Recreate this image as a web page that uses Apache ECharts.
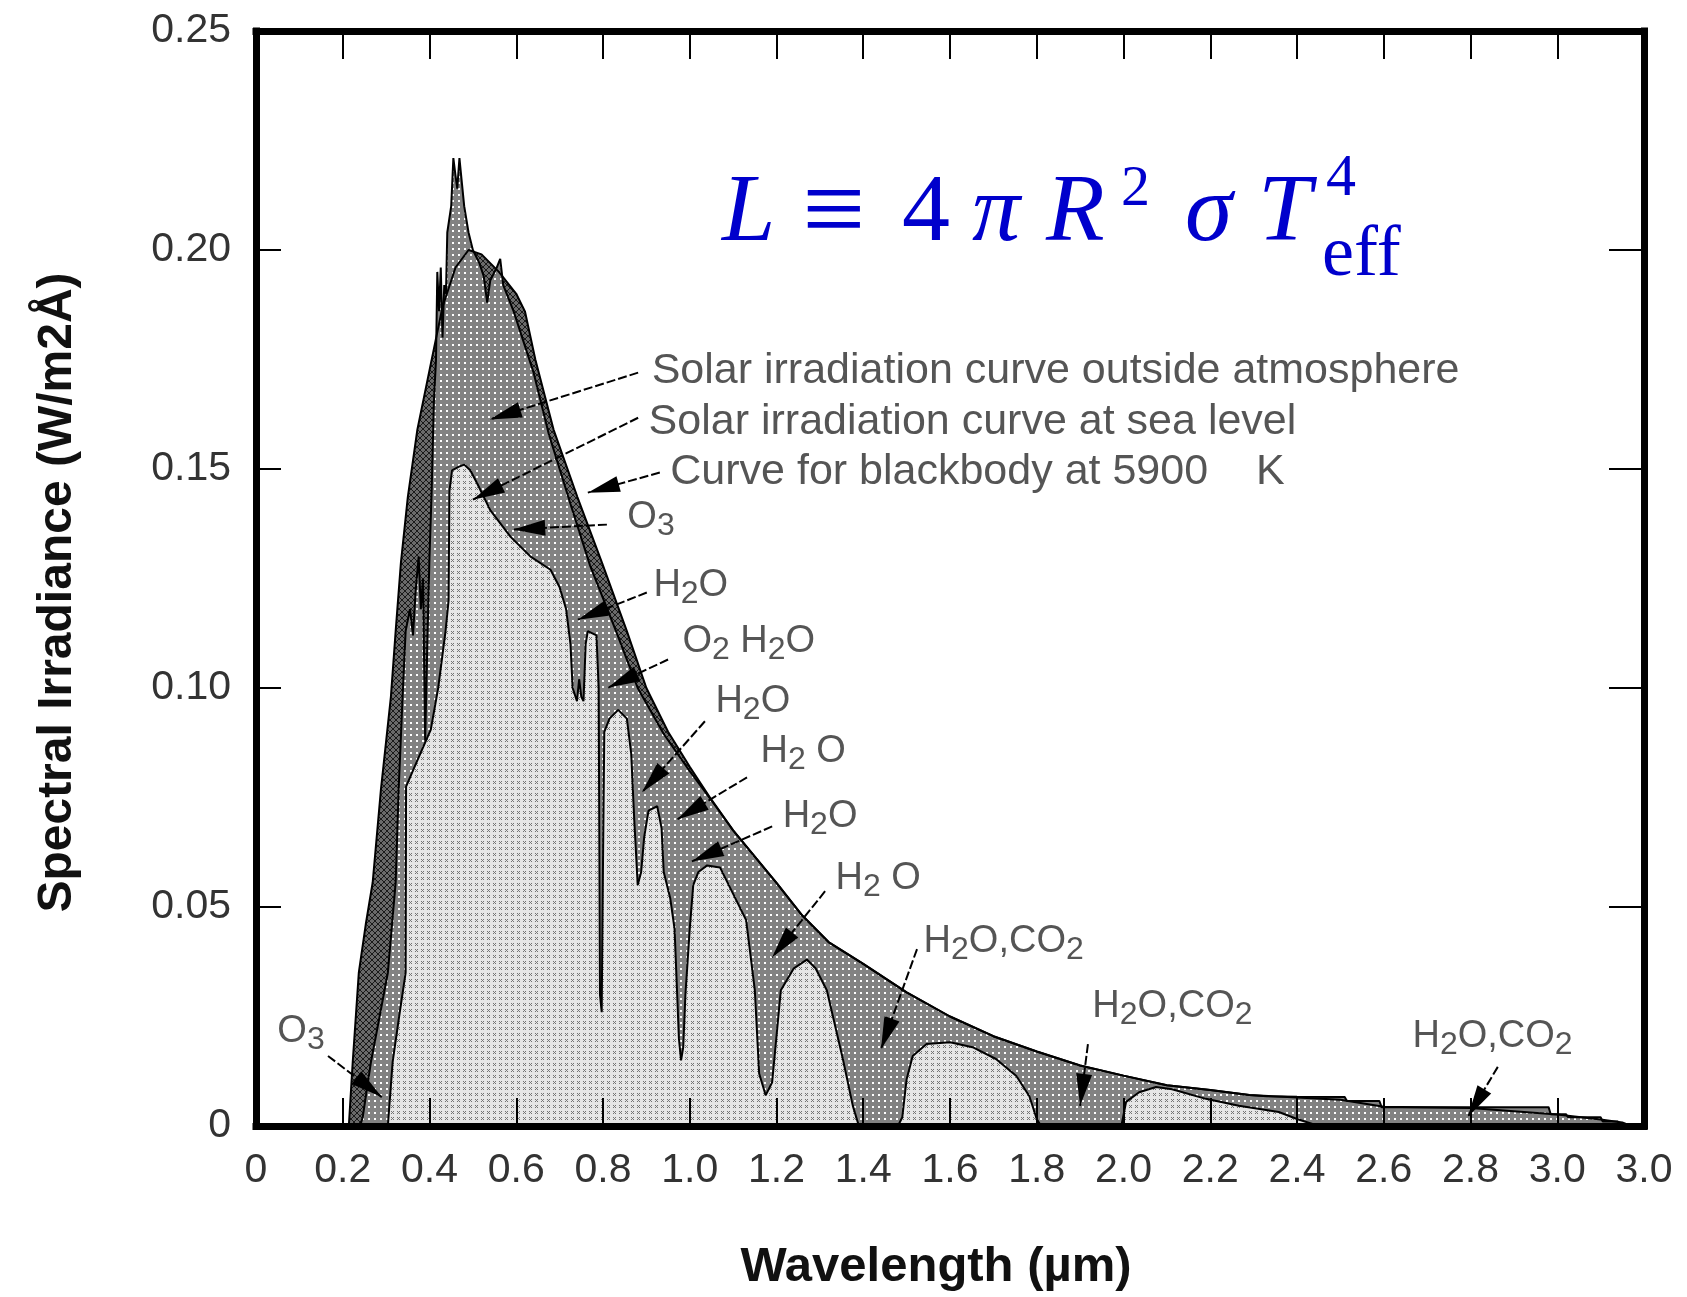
<!DOCTYPE html>
<html>
<head>
<meta charset="utf-8">
<title>Solar spectral irradiance</title>
<script src="https://cdn.jsdelivr.net/npm/echarts@6/dist/echarts.min.js"></script>
<style>
html, body { margin: 0; padding: 0; background: #fff; }
#chart { width: 1687px; height: 1297px; }
</style>
</head>
<body>
<div id="chart"></div>
<script>
// tick labels as printed on the figure (the last one really reads 3.0)
var xTickLabels = ['0', '0.2', '0.4', '0.6', '0.8', '1.0', '1.2', '1.4', '1.6', '1.8',
                   '2.0', '2.2', '2.4', '2.6', '2.8', '3.0', '3.0'];
var yTickLabels = ['0', '0.05', '0.10', '0.15', '0.20', '0.25'];

// [wavelength um, irradiance W/m2A]
var blackbody = [
    [0.214, 0], [0.223, 0.0146], [0.237, 0.035], [0.253, 0.046], [0.269, 0.0556], [0.288, 0.0768],
    [0.311, 0.098], [0.322, 0.113], [0.334, 0.1285], [0.35, 0.1436], [0.372, 0.159], [0.403, 0.174],
    [0.43, 0.187], [0.46, 0.196], [0.49, 0.2], [0.52, 0.199], [0.56, 0.195], [0.60, 0.19],
    [0.62, 0.186], [0.644, 0.175], [0.686, 0.159], [0.741, 0.1436], [0.798, 0.1285], [0.855, 0.113],
    [0.90, 0.1], [0.95, 0.09], [1.00, 0.082], [1.05, 0.0745], [1.10, 0.0675], [1.15, 0.0615],
    [1.20, 0.0555], [1.26, 0.048], [1.32, 0.042], [1.40, 0.037], [1.50, 0.0305], [1.60, 0.025],
    [1.70, 0.0205], [1.80, 0.017], [1.90, 0.0138], [2.00, 0.0115], [2.10, 0.0093], [2.20, 0.0082],
    [2.29, 0.0071], [2.40, 0.0065], [2.50, 0.006], [2.60, 0.0044], [2.80, 0.0041], [3.00, 0.0026],
    [3.10, 0.0015], [3.15, 0.0008], [3.17, 0]
];

var outside = [
    [0.240, 0], [0.246, 0.002], [0.265, 0.0146], [0.285, 0.025], [0.304, 0.035], [0.322, 0.0556],
    [0.329, 0.077], [0.338, 0.098], [0.345, 0.113], [0.355, 0.118], [0.362, 0.112], [0.368, 0.122],
    [0.375, 0.13], [0.38, 0.118], [0.385, 0.125], [0.39, 0.088], [0.395, 0.11], [0.40, 0.13],
    [0.405, 0.145], [0.41, 0.165], [0.415, 0.175], [0.418, 0.195], [0.422, 0.186], [0.426, 0.196],
    [0.43, 0.18], [0.434, 0.192], [0.438, 0.19], [0.441, 0.204], [0.45, 0.21], [0.455, 0.221],
    [0.46, 0.217], [0.464, 0.214], [0.469, 0.221], [0.475, 0.215], [0.48, 0.21], [0.49, 0.204],
    [0.50, 0.2], [0.515, 0.197], [0.525, 0.194], [0.533, 0.188], [0.54, 0.193], [0.555, 0.196],
    [0.563, 0.198], [0.57, 0.192], [0.594, 0.186], [0.64, 0.172], [0.675, 0.158], [0.725, 0.142],
    [0.77, 0.128], [0.83, 0.113], [0.88, 0.1], [0.94, 0.0895], [1.00, 0.081], [1.06, 0.073],
    [1.10, 0.0675], [1.15, 0.0615], [1.20, 0.0555], [1.26, 0.048], [1.32, 0.042], [1.40, 0.037],
    [1.50, 0.0305], [1.60, 0.025], [1.70, 0.0205], [1.80, 0.017], [1.90, 0.0138], [2.00, 0.0115],
    [2.10, 0.0093], [2.20, 0.0082], [2.29, 0.0071], [2.33, 0.0068], [2.40, 0.0067], [2.51, 0.0066],
    [2.515, 0.0057], [2.59, 0.0057], [2.595, 0.0043], [2.98, 0.0043], [2.985, 0.0027], [3.02, 0.0027],
    [3.025, 0.002], [3.10, 0.002], [3.105, 0.001], [3.14, 0.001], [3.145, 0]
];

var seaLevel = [
    [0.304, 0], [0.315, 0.0146], [0.33, 0.025], [0.345, 0.035], [0.346, 0.0775], [0.37, 0.083],
    [0.403, 0.0905], [0.42, 0.10], [0.437, 0.113], [0.444, 0.12], [0.446, 0.145], [0.452, 0.1497],
    [0.467, 0.1505], [0.48, 0.151], [0.494, 0.1497], [0.51, 0.1467], [0.54, 0.1406], [0.587, 0.1345],
    [0.633, 0.13], [0.679, 0.127], [0.70, 0.123], [0.715, 0.118], [0.725, 0.11], [0.73, 0.10],
    [0.74, 0.097], [0.745, 0.102], [0.75, 0.098], [0.755, 0.097], [0.76, 0.11], [0.765, 0.113],
    [0.785, 0.112], [0.79, 0.10], [0.793, 0.03], [0.797, 0.026], [0.80, 0.06], [0.803, 0.09],
    [0.815, 0.093], [0.835, 0.095], [0.855, 0.093], [0.865, 0.085], [0.872, 0.07], [0.88, 0.055],
    [0.888, 0.058], [0.895, 0.066], [0.905, 0.072], [0.925, 0.073], [0.935, 0.068], [0.94, 0.058],
    [0.955, 0.052], [0.965, 0.045], [0.975, 0.02], [0.98, 0.015], [0.985, 0.018], [0.99, 0.03],
    [1.00, 0.045], [1.008, 0.055], [1.02, 0.058], [1.04, 0.0595], [1.07, 0.059], [1.10, 0.053],
    [1.13, 0.047], [1.15, 0.031], [1.16, 0.012], [1.175, 0.007], [1.19, 0.01], [1.21, 0.031],
    [1.24, 0.036], [1.27, 0.038], [1.29, 0.036], [1.316, 0.031], [1.353, 0.0153], [1.376, 0.0046],
    [1.39, 0], [1.48, 0], [1.49, 0.002], [1.50, 0.0107], [1.514, 0.016], [1.546, 0.0187],
    [1.60, 0.0191], [1.652, 0.018], [1.706, 0.0153], [1.753, 0.0114], [1.783, 0.0068], [1.80, 0.0016],
    [1.81, 0], [1.995, 0], [2.006, 0.0055], [2.036, 0.0077], [2.075, 0.0089], [2.112, 0.0084],
    [2.19, 0.0062], [2.266, 0.0046], [2.358, 0.0032], [2.40, 0.0016], [2.45, 0]
];

// callout texts: [x, y, text]  (digits in formulas are drawn as subscripts)
var curveNotes = [
    [0.911, 0.1724, 'Solar irradiation curve outside atmosphere'],
    [0.904, 0.1608, 'Solar irradiation curve at sea level'],
    [0.954, 0.1492, 'Curve for blackbody at 5900    K']
];
var gasNotes = [
    [0.855, 0.1387, 'O3'],
    [0.915, 0.1232, 'H2O'],
    [0.982, 0.1104, 'O2 H2O'],
    [1.058, 0.0967, 'H2O'],
    [1.162, 0.0853, 'H2 O'],
    [1.213, 0.0705, 'H2O'],
    [1.335, 0.0563, 'H2 O'],
    [1.538, 0.0420, 'H2O,CO2'],
    [1.927, 0.0271, 'H2O,CO2'],
    [2.665, 0.0203, 'H2O,CO2'],
    [0.048, 0.0214, 'O3']
];
// leader lines: [x from, y from, x tip, y tip]
var arrows = [
    [0.881, 0.1720, 0.539, 0.1613],
    [0.881, 0.1617, 0.500, 0.1430],
    [0.931, 0.1492, 0.765, 0.1446],
    [0.809, 0.1373, 0.593, 0.1362],
    [0.901, 0.1218, 0.742, 0.1156],
    [0.950, 0.1065, 0.812, 0.1001],
    [1.035, 0.0924, 0.890, 0.0762],
    [1.132, 0.0796, 0.971, 0.0700],
    [1.190, 0.0684, 1.005, 0.0604],
    [1.312, 0.0536, 1.190, 0.0385],
    [1.524, 0.0404, 1.441, 0.0176],
    [1.918, 0.0187, 1.900, 0.0046],
    [2.863, 0.0135, 2.794, 0.0021],
    [0.166, 0.0160, 0.290, 0.0066]
];

var FONT = 'Liberation Sans, Arial, sans-serif';
var SERIF = 'Liberation Serif, DejaVu Serif, serif';

function pattern(bg, fg, pts, size) {
    var c = document.createElement('canvas');
    c.width = size;
    c.height = size;
    var ctx = c.getContext('2d');
    ctx.fillStyle = bg;
    ctx.fillRect(0, 0, size, size);
    ctx.fillStyle = fg;
    pts.forEach(function (p) {
        ctx.fillRect(p[0], p[1], p[2] || 1, p[3] || 1);
    });
    return { image: c, repeat: 'repeat' };
}

var darkFill = pattern('#6a6a6a', '#1a1a1a',
    [[0, 0], [1, 1], [2, 2], [3, 3], [4, 4], [5, 5], [5, 0], [4, 1], [3, 2], [2, 3], [1, 4], [0, 5]], 6);
var dotFill = pattern('#828282', '#ffffff', [[2, 2, 2, 2]], 6);
var lightFill = pattern('#e6e6e6', '#747474', [[1, 1], [3, 1], [2, 2], [1, 3], [3, 3]], 6);

function area(name, data, fill) {
    return {
        name: name,
        type: 'line',
        data: data,
        symbol: 'none',
        silent: true,
        lineStyle: { color: '#000', width: 2 },
        areaStyle: { color: fill, opacity: 1 }
    };
}

function chem(t) {
    var s = '{n|' + t.replace(/\d/g, function (d) { return '}{s|' + d + '}{n|'; }) + '}';
    return s.replace(/\{n\|\}/g, '');
}

var axisLine = { show: true, onZero: false, lineStyle: { color: '#000', width: 7, cap: 'square' } };
var tickStyle = { color: '#000', width: 2 };

var chart = echarts.init(document.getElementById('chart'));

chart.setOption({
    animation: false,
    backgroundColor: '#fff',
    grid: { left: 256, right: 43, top: 31, bottom: 170 },
    xAxis: [{
        type: 'value', min: 0, max: 3.2, interval: 0.2, position: 'bottom', z: 10,
        axisLine: axisLine,
        axisTick: { show: true, inside: true, length: 28, lineStyle: tickStyle },
        axisLabel: {
            margin: 24, fontSize: 41, color: '#333', fontFamily: FONT,
            showMinLabel: true, showMaxLabel: true,
            formatter: function (v) { return xTickLabels[Math.round(v / 0.2)]; }
        },
        splitLine: { show: false },
        name: 'Wavelength (µm)', nameLocation: 'middle', nameGap: 117,
        nameTextStyle: { fontSize: 49, fontWeight: 'bold', color: '#111', fontFamily: FONT, padding: [0, 28, 0, 0] }
    }, {
        type: 'value', min: 0, max: 3.2, interval: 0.2, position: 'top', z: 10,
        axisLine: axisLine,
        axisTick: { show: true, inside: true, length: 28, lineStyle: tickStyle },
        axisLabel: { show: false },
        splitLine: { show: false }
    }],
    yAxis: [{
        type: 'value', min: 0, max: 0.25, interval: 0.05, position: 'left', z: 10,
        axisLine: axisLine,
        axisTick: { show: true, inside: true, length: 25, lineStyle: tickStyle },
        axisLabel: {
            margin: 25, fontSize: 41, color: '#333', fontFamily: FONT,
            formatter: function (v) { return yTickLabels[Math.round(v / 0.05)]; }
        },
        splitLine: { show: false },
        name: 'Spectral Irradiance (W/m2Å)', nameLocation: 'middle', nameGap: 174,
        nameTextStyle: { fontSize: 48, fontWeight: 'bold', color: '#111', fontFamily: FONT, padding: [0, 28, 0, 0] }
    }, {
        type: 'value', min: 0, max: 0.25, interval: 0.05, position: 'right', z: 10,
        axisLine: axisLine,
        axisTick: { show: true, inside: true, length: 35, lineStyle: tickStyle },
        axisLabel: { show: false },
        splitLine: { show: false }
    }],
    series: [
        area('Blackbody 5900 K', blackbody, darkFill),
        area('Outside atmosphere', outside, dotFill),
        area('Sea level', seaLevel, lightFill),
        {
            type: 'lines',
            coordinateSystem: 'cartesian2d',
            silent: true,
            z: 5,
            symbol: ['none', 'path://M0,0M0,2L1,4L-1,4Z'],
            symbolSize: [1, [16, 64]],
            lineStyle: { color: '#000', width: 2, type: [9, 3], opacity: 1 },
            data: arrows.map(function (a) {
                return { coords: [[a[0], a[1]], [a[2], a[3]]] };
            })
        },
        {
            type: 'scatter',
            silent: true,
            z: 6,
            symbolSize: 1,
            itemStyle: { color: 'rgba(0,0,0,0)' },
            label: {
                show: true, position: 'right', distance: 0,
                fontSize: 43, color: '#2a2a2a', fontFamily: FONT,
                formatter: function (p) { return p.data.text; }
            },
            data: curveNotes.map(function (n) { return { value: [n[0], n[1]], text: n[2] }; })
        },
        {
            type: 'scatter',
            silent: true,
            z: 6,
            symbolSize: 1,
            itemStyle: { color: 'rgba(0,0,0,0)' },
            label: {
                show: true, position: 'right', distance: 0, offset: [0, 8],
                formatter: function (p) { return chem(p.data.text); },
                rich: {
                    n: { fontSize: 38, color: '#2a2a2a', fontFamily: FONT, lineHeight: 40, verticalAlign: 'top' },
                    s: { fontSize: 32, color: '#2a2a2a', fontFamily: FONT, lineHeight: 56 }
                }
            },
            data: gasNotes.map(function (n) { return { value: [n[0], n[1]], text: n[2] }; })
        }
    ],
    graphic: [
        ['L', 722, 215, 96, true],
        ['\u2261', 802, 217, 112, false],
        ['4', 902, 215, 96, false],
        ['\u03c0', 972, 215, 96, true],
        ['R', 1046, 215, 96, true],
        ['2', 1121, 190, 58, false],
        ['\u03c3', 1185, 215, 96, true],
        ['T', 1258, 215, 96, true],
        ['4', 1326, 179, 60, false],
        ['eff', 1322, 256, 72, false]
    ].map(function (g) {
        return {
            type: 'text', x: g[1], y: g[2], silent: true, z: 20,
            style: {
                text: g[0], fill: '#0000cc', fontSize: g[3], fontFamily: SERIF,
                fontStyle: g[4] ? 'italic' : 'normal', align: 'left', verticalAlign: 'middle'
            }
        };
    })
});
</script>
</body>
</html>
